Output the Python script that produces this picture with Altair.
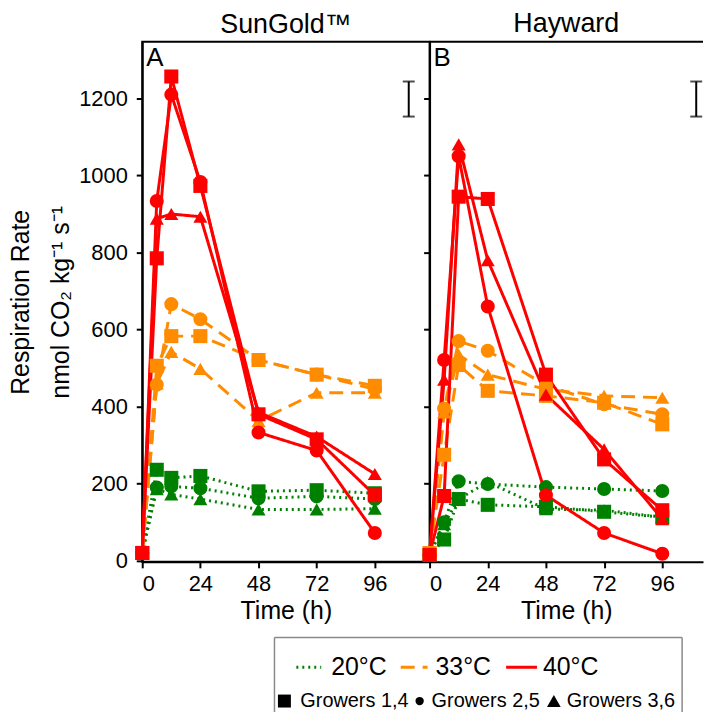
import altair as alt
import pandas as pd

TIMES = [0, 6, 12, 24, 48, 72, 96]
TEMPS = ["20°C", "33°C", "40°C"]
GROWERS = ["Growers 1,4", "Growers 2,5", "Growers 3,6"]
COLORS = ["#008000", "#FF8C00", "#FF0000"]
SHAPES = ["square", "circle", "triangle-up"]
DASHES = [[2, 4], [14, 8], [1, 0]]
LEGEND_DASHES = [[3, 6], [8, 3], [1, 0]]

# Panel A: SunGold (nmol CO2 kg-1 s-1)
SG_20_G14 = [20, 236, 215, 220, 180, 183, 175]
SG_20_G25 = [20, 190, 193, 188, 162, 167, 160]
SG_20_G36 = [20, 186, 172, 160, 133, 133, 135]
SG_33_G14 = [20, 506, 583, 583, 521, 483, 454]
SG_33_G25 = [20, 457, 666, 627, 521, 483, 445]
SG_33_G36 = [20, 460, 542, 498, 363, 436, 436]
SG_40_G14 = [20, 785, 1257, 973, 380, 315, 170]
SG_40_G25 = [20, 934, 1210, 983, 333, 286, 72]
SG_40_G36 = [20, 888, 900, 893, 385, 322, 225]

# Panel B: Hayward
HW_20_G14 = [15, 55, 160, 145, 140, 127, 113]
HW_20_G25 = [15, 100, 206, 199, 191, 186, 181]
HW_20_G36 = [15, 95, 160, 204, 134, 131, 113]
HW_33_G14 = [20, 275, 508, 441, 428, 410, 354]
HW_33_G25 = [20, 395, 570, 545, 455, 406, 380]
HW_33_G36 = [20, 385, 535, 483, 445, 428, 423]
HW_40_G14 = [15, 168, 945, 939, 483, 263, 131]
HW_40_G25 = [15, 521, 1050, 660, 170, 72, 18]
HW_40_G36 = [15, 470, 1081, 780, 431, 289, 108]

# LSD bar
LSD_TIME = [110]
LSD_LOW = [1153]
LSD_HIGH = [1244]

Y_TICKS = [0, 200, 400, 600, 800, 1000, 1200]
X_TICKS = [0, 24, 48, 72, 96]

FONT = "Liberation Sans"

SG = [[SG_20_G14, SG_20_G25, SG_20_G36],
      [SG_33_G14, SG_33_G25, SG_33_G36],
      [SG_40_G14, SG_40_G25, SG_40_G36]]
HW = [[HW_20_G14, HW_20_G25, HW_20_G36],
      [HW_33_G14, HW_33_G25, HW_33_G36],
      [HW_40_G14, HW_40_G25, HW_40_G36]]


def to_df(series):
    rows = []
    for ti, temp in enumerate(TEMPS):
        for gi, grower in enumerate(GROWERS):
            for t, v in zip(TIMES, series[ti][gi]):
                rows.append({"temp": temp, "grower": grower, "time": t,
                             "rate": v, "ti": ti})
    return pd.DataFrame(rows)


color_scale = alt.Scale(domain=TEMPS, range=COLORS)
dash_scale = alt.Scale(domain=TEMPS, range=DASHES)
shape_scale = alt.Scale(domain=GROWERS, range=SHAPES)


def panel(series, title, letter, xmax, width, first):
    df = to_df(series)
    x = alt.X("time:Q", scale=alt.Scale(domain=[0, xmax], nice=False, zero=False),
              axis=alt.Axis(values=X_TICKS, title="Time (h)", labelPadding=6,
                            titlePadding=4))
    y = alt.Y("rate:Q", scale=alt.Scale(domain=[-3, 1347], nice=False, zero=False),
              axis=alt.Axis(values=Y_TICKS, labels=first, labelPadding=9,
                            titlePadding=5, titleLineHeight=40, format="d",
                            title=["Respiration Rate", "nmol CO₂ kg⁻¹ s⁻¹"] if first else None))
    base = alt.Chart(df)
    lines = base.mark_line(strokeWidth=3).encode(
        x=x, y=y,
        color=alt.Color("temp:N", scale=color_scale, legend=None),
        strokeDash=alt.StrokeDash("temp:N", scale=dash_scale, legend=None),
        detail="grower:N",
    )
    points = base.mark_point(filled=True, size=200, opacity=1).encode(
        x=x, y=y,
        color=alt.Color("temp:N", scale=color_scale, legend=None),
        shape=alt.Shape("grower:N", scale=shape_scale, legend=None),
        order=alt.Order("ti:Q"),
    )
    lsd = pd.DataFrame({"time": LSD_TIME, "lo": LSD_LOW, "hi": LSD_HIGH})
    bar = alt.Chart(lsd).mark_rule(color="black", strokeWidth=2).encode(
        x="time:Q", y="lo:Q", y2="hi:Q")
    cap_lo = alt.Chart(lsd).mark_tick(color="black", thickness=2, size=12,
                                      orient="horizontal").encode(x="time:Q", y="lo:Q")
    cap_hi = alt.Chart(lsd).mark_tick(color="black", thickness=2, size=12,
                                      orient="horizontal").encode(x="time:Q", y="hi:Q")
    lab = alt.Chart(pd.DataFrame({"t": [letter]})).mark_text(
        align="left", baseline="top", fontSize=26, font=FONT, color="black"
    ).encode(text="t:N", x=alt.value(4), y=alt.value(3))
    layers = [lines, points, bar, cap_lo, cap_hi, lab]
    props = dict(width=width, height=523,
                 title=alt.TitleParams(title, fontSize=27, fontWeight="normal", font=FONT,
                                       anchor="middle", offset=3, color="black"))
    if not first:
        # the right-hand frame runs off the page edge: draw only its top edge
        top_edge = alt.Chart(pd.DataFrame({"t": [0]})).mark_rule(
            color="black", strokeWidth=2).encode(
            x=alt.value(0), x2=alt.value(width), y=alt.value(0))
        layers.append(top_edge)
        props["view"] = alt.ViewBackground(stroke=None)
    return alt.layer(*layers).properties(**props)


left = panel(SG, "SunGold™", "A", 118.6, 289, True)
right = panel(HW, "Hayward", "B", 112.8, 275, False)

top = alt.hconcat(left, right, spacing=0, bounds="flush")

# custom legend, placed in page-like pixel coordinates below the panels
LEG_X0 = 143
LEG_W = 560
LEG_TOP = 624
LEG_H = 88
LEG_BOTTOM = LEG_TOP + LEG_H
leg_x = alt.Scale(domain=[LEG_X0, LEG_X0 + LEG_W], nice=False, zero=False)
leg_y = alt.Scale(domain=[LEG_TOP, LEG_BOTTOM], nice=False, zero=False, reverse=True)

# legend frame: top, left and right edges (the bottom runs off the page)
edges = pd.DataFrame({"x": [276, 276, 686], "x2": [686, 276, 686],
                      "y": [637, 637, 637], "y2": [637, LEG_BOTTOM, LEG_BOTTOM]})
box = alt.Chart(edges).mark_rule(color="#8a8a8a", strokeWidth=1.5).encode(
    x=alt.X("x:Q", scale=leg_x, axis=None), x2="x2:Q",
    y=alt.Y("y:Q", scale=leg_y, axis=None), y2="y2:Q")

leg_lines_df = pd.DataFrame({"temp": TEMPS, "x": [298, 403, 509], "x2": [323, 430, 540],
                             "y": [667, 667, 667]})
leg_lines = alt.Chart(leg_lines_df).mark_rule(strokeWidth=3).encode(
    x=alt.X("x:Q", scale=leg_x, axis=None), x2="x2:Q",
    y=alt.Y("y:Q", scale=leg_y, axis=None),
    color=alt.Color("temp:N", scale=color_scale, legend=None),
    strokeDash=alt.StrokeDash("temp:N", scale=alt.Scale(domain=TEMPS, range=LEGEND_DASHES),
                              legend=None),
)
leg_temp_text = alt.Chart(pd.DataFrame({"temp": TEMPS, "x": [333, 438, 546],
                                        "y": [667, 667, 667]})).mark_text(
    align="left", baseline="middle", fontSize=25, font=FONT, color="black"
).encode(x=alt.X("x:Q", scale=leg_x, axis=None), y=alt.Y("y:Q", scale=leg_y, axis=None),
         text="temp:N")

leg_shape_df = pd.DataFrame({"grower": GROWERS, "x": [286, 422, 557], "y": [701, 701, 701],
                             "s": [170, 70, 190]})
leg_shapes = alt.Chart(leg_shape_df).mark_point(filled=True, color="black", opacity=1).encode(
    x=alt.X("x:Q", scale=leg_x, axis=None), y=alt.Y("y:Q", scale=leg_y, axis=None),
    shape=alt.Shape("grower:N", scale=shape_scale, legend=None),
    size=alt.Size("s:Q", scale=None, legend=None),
)
leg_grow_text = alt.Chart(pd.DataFrame({"grower": GROWERS, "x": [302, 434, 570],
                                        "y": [701, 701, 701]})).mark_text(
    align="left", baseline="middle", fontSize=20, font=FONT, color="black"
).encode(x=alt.X("x:Q", scale=leg_x, axis=None), y=alt.Y("y:Q", scale=leg_y, axis=None),
         text="grower:N")

legend = alt.layer(box, leg_lines, leg_temp_text, leg_shapes, leg_grow_text).properties(
    width=LEG_W, height=LEG_H, view=alt.ViewBackground(stroke=None))

chart = alt.vconcat(top, legend, spacing=0).configure(
    padding=0, background="white"
).configure_view(
    stroke="black", strokeWidth=2
).configure_axis(
    domainColor="black", domainWidth=2, tickColor="black", tickWidth=2, tickSize=6,
    grid=False, labelFont=FONT, labelFontSize=22, labelColor="black",
    titleFont=FONT, titleFontSize=25, titleFontWeight="normal", titleColor="black",
)

chart.save("out.html", embed_options={"renderer": "svg", "actions": False})
